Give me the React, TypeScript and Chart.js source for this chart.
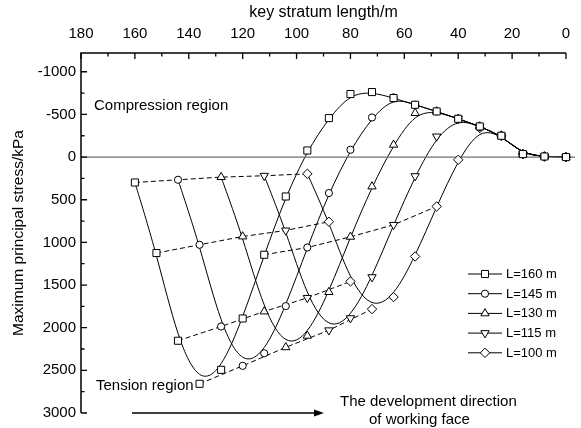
import React, { useEffect, useRef } from 'react';
import { Chart, registerables } from 'chart.js';

Chart.register(...registerables);

// ---------- data ----------
const seriesNames = ['L=160 m', 'L=145 m', 'L=130 m', 'L=115 m', 'L=100 m'];

const l160X = [160, 152, 144, 136, 128, 120, 112, 104, 96, 88, 80, 72, 64, 56, 48, 40, 32, 24, 16, 8, 0];
const l160Y = [298, 1125, 2153, 2658, 2494, 1892, 1145, 462, -77, -457, -739, -762, -692, -613, -535, -449, -359, -250, -35, -7, 0];

const l145X = [144, 136, 128, 120, 112, 104, 96, 88, 80, 72, 64, 56, 48, 40, 32, 24, 16, 8, 0];
const l145Y = [266, 1028, 1986, 2447, 2300, 1747, 1060, 422, -86, -464, -699, -613, -535, -449, -359, -250, -35, -7, 0];

const l130X = [128, 120, 112, 104, 96, 88, 80, 72, 64, 56, 48, 40, 32, 24, 16, 8, 0];
const l130Y = [235, 931, 1810, 2230, 2095, 1583, 935, 345, -144, -516, -535, -449, -359, -250, -35, -7, 0];

const l115X = [112, 104, 96, 88, 80, 72, 64, 56, 48, 40, 32, 24, 16, 8, 0];
const l115Y = [219, 860, 1650, 2030, 1888, 1407, 794, 223, -242, -449, -359, -250, -35, -7, 0];

const l100X = [96, 88, 80, 72, 64, 56, 48, 40, 32, 24, 16, 8, 0];
const l100Y = [196, 758, 1458, 1782, 1641, 1165, 579, 32, -340, -250, -35, -7, 0];

// dashed lines join the points of the same index on every curve
const dashedIndices = [0, 1, 2, 3, 6];

const xTickValues = [180, 160, 140, 120, 100, 80, 60, 40, 20, 0];
const yTickValues = [-1000, -500, 0, 500, 1000, 1500, 2000, 2500, 3000];
const xMinorStep = 10;
const yMinorStep = 250;
const yMin = -1220;
const yMax = 3000;

const xTitle = 'key stratum length/m';
const yTitle = 'Maximum principal stress/kPa';
const compressionLabel = 'Compression region';
const tensionLabel = 'Tension region';
const directionLine1 = 'The development direction';
const directionLine2 = 'of working face';

// ---------- styles ----------
const FONT = "'Liberation Sans', Arial, Helvetica, sans-serif";
const markerStyles = [
  { style: 'rect', radius: 5, rotation: 0 },
  { style: 'circle', radius: 3.6, rotation: 0 },
  { style: 'triangle', radius: 4.8, rotation: 0 },
  { style: 'triangle', radius: 4.8, rotation: 180 },
  { style: 'rectRot', radius: 4.7, rotation: 0 },
];

function drawMarker(ctx: CanvasRenderingContext2D, style: string, x: number, y: number, r: number, rot: number) {
  ctx.beginPath();
  if (style === 'rect') {
    const s = Math.SQRT1_2 * r;
    ctx.rect(x - s, y - s, 2 * s, 2 * s);
  } else if (style === 'circle') {
    ctx.arc(x, y, r, 0, Math.PI * 2);
  } else if (style === 'triangle') {
    let a = (rot * Math.PI) / 180;
    ctx.moveTo(x + Math.sin(a) * r, y - Math.cos(a) * r);
    a += (2 * Math.PI) / 3;
    ctx.lineTo(x + Math.sin(a) * r, y - Math.cos(a) * r);
    a += (2 * Math.PI) / 3;
    ctx.lineTo(x + Math.sin(a) * r, y - Math.cos(a) * r);
    ctx.closePath();
  } else if (style === 'rectRot') {
    ctx.moveTo(x, y - r);
    ctx.lineTo(x + r, y);
    ctx.lineTo(x, y + r);
    ctx.lineTo(x - r, y);
    ctx.closePath();
  }
  ctx.fillStyle = '#fff';
  ctx.fill();
  ctx.strokeStyle = '#000';
  ctx.lineWidth = 1;
  ctx.stroke();
}

// Origin-style B-spline connection through the library's own point positions
const bsplinePlugin = {
  id: 'bspline',
  beforeDatasetsDraw(chart: any) {
    const { ctx, chartArea: a } = chart;
    ctx.save();
    ctx.beginPath();
    ctx.rect(a.left, a.top - 5, a.right - a.left + 10, a.bottom - a.top + 5);
    ctx.clip();
    ctx.strokeStyle = '#000';
    ctx.lineWidth = 1;
    for (let i = 0; i < seriesNames.length; i++) {
      const pts = chart.getDatasetMeta(i).data.map((p: any) => ({ x: p.x, y: p.y }));
      const first = pts[0];
      const last = pts[pts.length - 1];
      const q = [first, first, ...pts, last, last];
      ctx.beginPath();
      for (let s = 0; s + 3 < q.length; s++) {
        const q0 = q[s], q1 = q[s + 1], q2 = q[s + 2], q3 = q[s + 3];
        const b0x = (q0.x + 4 * q1.x + q2.x) / 6;
        const b0y = (q0.y + 4 * q1.y + q2.y) / 6;
        const b1x = (2 * q1.x + q2.x) / 3;
        const b1y = (2 * q1.y + q2.y) / 3;
        const b2x = (q1.x + 2 * q2.x) / 3;
        const b2y = (q1.y + 2 * q2.y) / 3;
        const b3x = (q1.x + 4 * q2.x + q3.x) / 6;
        const b3y = (q1.y + 4 * q2.y + q3.y) / 6;
        if (s === 0) ctx.moveTo(b0x, b0y);
        ctx.bezierCurveTo(b1x, b1y, b2x, b2y, b3x, b3y);
      }
      ctx.stroke();
    }
    ctx.restore();
  },
};

const decoPlugin = {
  id: 'deco',
  beforeDatasetsDraw(chart: any) {
    const { ctx, chartArea: a, scales } = chart;
    const y0 = scales.y.getPixelForValue(0);
    ctx.save();
    ctx.strokeStyle = '#707070';
    ctx.lineWidth = 1.2;
    ctx.beginPath();
    ctx.moveTo(a.left, y0);
    ctx.lineTo(a.right + 9, y0);
    ctx.stroke();
    ctx.restore();
  },
  afterDraw(chart: any) {
    const { ctx, chartArea: a, scales } = chart;
    const xs = scales.x;
    const ys = scales.y;
    ctx.save();
    // axes
    ctx.strokeStyle = '#000';
    ctx.lineWidth = 1.5;
    ctx.beginPath();
    ctx.moveTo(a.left, a.bottom);
    ctx.lineTo(a.left, a.top);
    ctx.lineTo(a.right, a.top);
    ctx.stroke();
    // inward ticks
    ctx.lineWidth = 1.3;
    ctx.beginPath();
    for (let v = 0; v <= 180; v += xMinorStep) {
      const px = xs.getPixelForValue(v);
      const len = xTickValues.includes(v) ? 6 : 3.5;
      ctx.moveTo(px, a.top);
      ctx.lineTo(px, a.top + len);
    }
    for (let v = -1000; v <= yMax; v += yMinorStep) {
      const py = ys.getPixelForValue(v);
      const len = yTickValues.includes(v) ? 6 : 3.5;
      ctx.moveTo(a.left, py);
      ctx.lineTo(a.left + len, py);
    }
    ctx.stroke();

    // annotation texts
    ctx.fillStyle = '#000';
    ctx.font = `15px ${FONT}`;
    ctx.textAlign = 'left';
    ctx.textBaseline = 'middle';
    ctx.fillText(compressionLabel, 94, 106);
    ctx.fillText(tensionLabel, 96, 386);
    ctx.fillText(directionLine1, 340, 402);
    ctx.fillText(directionLine2, 369, 420);

    // arrow
    ctx.lineWidth = 1.3;
    ctx.beginPath();
    ctx.moveTo(132, 413);
    ctx.lineTo(316, 413);
    ctx.stroke();
    ctx.beginPath();
    ctx.moveTo(324, 413);
    ctx.lineTo(314, 409.5);
    ctx.lineTo(314, 416.5);
    ctx.closePath();
    ctx.fill();

    // legend
    ctx.font = `13px ${FONT}`;
    seriesNames.forEach((name, i) => {
      const ly = 274 + i * 19.7;
      ctx.strokeStyle = '#000';
      ctx.lineWidth = 1;
      ctx.beginPath();
      ctx.moveTo(468, ly);
      ctx.lineTo(502, ly);
      ctx.stroke();
      const m = markerStyles[i];
      drawMarker(ctx, m.style, 485, ly, m.radius, m.rotation);
      ctx.fillStyle = '#000';
      ctx.fillText(name, 506, ly + 0.5);
    });
    ctx.restore();
  },
};

export default function App() {
  const ref = useRef<HTMLCanvasElement>(null);
  useEffect(() => {
    document.body.style.margin = '0';
    const canvas = ref.current;
    if (!canvas) return;
    const series = [
      [l160X, l160Y],
      [l145X, l145Y],
      [l130X, l130Y],
      [l115X, l115Y],
      [l100X, l100Y],
    ].map(([xs, ys]) => xs.map((x, i) => ({ x, y: ys[i] })));

    const curveSets = series.map((pts, i) => ({
      label: seriesNames[i],
      data: pts,
      showLine: false,
      borderColor: '#000',
      borderWidth: 1,
      pointStyle: markerStyles[i].style,
      pointRadius: markerStyles[i].radius,
      pointRotation: markerStyles[i].rotation,
      pointBackgroundColor: '#fff',
      pointBorderColor: '#000',
      pointBorderWidth: 1,
      fill: false,
      order: 0,
      clip: 8,
    }));
    const dashedSets = dashedIndices.map((k) => ({
      label: 'dash' + k,
      data: series.map((pts) => pts[k]),
      showLine: true,
      borderColor: '#000',
      borderWidth: 1,
      borderDash: [5, 3],
      pointRadius: 0,
      tension: 0,
      fill: false,
      order: 1,
    }));

    const chart = new Chart(canvas, {
      type: 'scatter',
      data: { datasets: [...curveSets, ...dashedSets] as any },
      options: {
        animation: false,
        responsive: false,
        devicePixelRatio: 1,
        layout: { padding: { left: 0, top: 0, right: 15, bottom: 15 } },
        plugins: { legend: { display: false }, tooltip: { enabled: false } },
        scales: {
          x: {
            type: 'linear',
            position: 'top',
            reverse: true,
            min: 0,
            max: 180,
            afterBuildTicks: (s: any) => {
              s.ticks = xTickValues.map((v) => ({ value: v }));
            },
            afterFit: (s: any) => {
              s.height = 53;
            },
            grid: { display: false, drawTicks: false },
            border: { display: false },
            ticks: {
              font: { family: FONT, size: 15 },
              color: '#000',
              padding: 10,
              maxRotation: 0,
              autoSkip: false,
              callback: (v: any) => String(v),
            },
            title: { display: true, text: xTitle, font: { family: FONT, size: 16 }, color: '#000', padding: { top: 3, bottom: 0 } },
          },
          y: {
            type: 'linear',
            position: 'left',
            reverse: true,
            min: yMin,
            max: yMax,
            afterBuildTicks: (s: any) => {
              s.ticks = yTickValues.map((v) => ({ value: v }));
            },
            afterFit: (s: any) => {
              s.width = 81;
            },
            grid: { display: false, drawTicks: false },
            border: { display: false },
            ticks: {
              font: { family: FONT, size: 15 },
              color: '#000',
              padding: 5,
              autoSkip: false,
              callback: (v: any) => String(v),
            },
            title: { display: true, text: yTitle, font: { family: FONT, size: 15.5 }, color: '#000', padding: { top: 9, bottom: 0 } },
          },
        },
      },
      plugins: [bsplinePlugin, decoPlugin],
    } as any);
    return () => chart.destroy();
  }, []);
  return (
    <div style={{ position: 'absolute', left: 0, top: 0, width: 581, height: 428 }}>
      <canvas ref={ref} width={581} height={428} style={{ display: 'block', width: 581, height: 428 }} />
    </div>
  );
}
